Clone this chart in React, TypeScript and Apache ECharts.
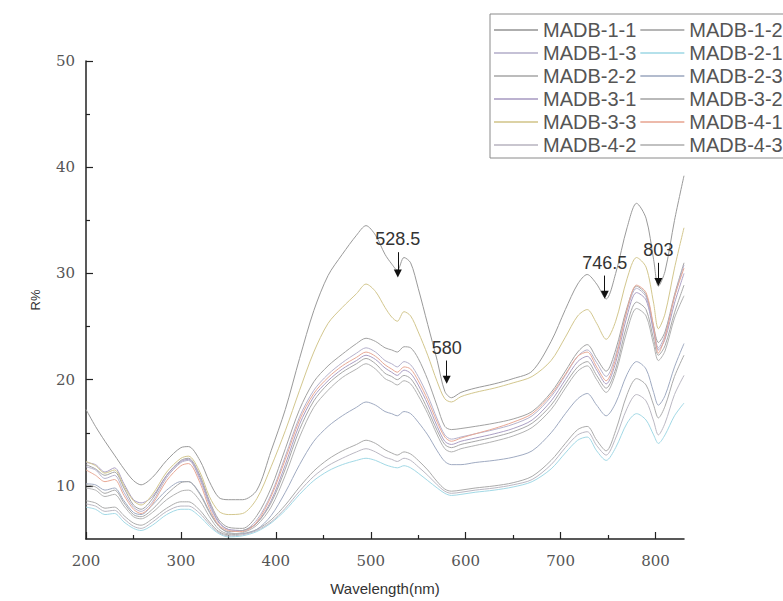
import React, { useEffect, useRef } from "react";
import * as echarts from "echarts";

// Sampled wavelengths (nm)
const wavelengths = [
  200, 210, 220, 230, 240, 250, 258, 270, 285, 300,
  308, 320, 330, 340, 350, 365, 380, 395, 410, 425,
  440, 455, 470, 485, 495, 505, 515, 522, 528, 535,
  542, 550, 560, 570, 578, 585, 595, 610, 630, 650,
  670, 690, 705, 718, 728, 738, 748, 758, 770, 780,
  790, 798, 803, 810, 820, 830,
];

// Reflectance (R%) per sample
const madb11 = [
  17.2, 15.6, 14.2, 12.9, 11.6, 10.5, 10.1, 10.8, 12.4, 13.6,
  13.7, 12.4, 10.4, 8.9, 8.7, 8.7, 9.6, 13.3, 17.2, 22.0,
  26.5, 29.8, 31.8, 33.6, 34.5, 33.6, 31.8, 30.9, 30.3, 31.5,
  31.0, 28.6, 25.2, 21.8, 18.9, 18.3, 18.8, 19.2, 19.6, 20.1,
  20.8, 23.6, 26.6, 29.0, 29.9, 29.0, 27.6, 30.0, 34.3, 36.6,
  35.2, 31.3, 28.8, 30.2, 35.0, 39.2,
];
const madb12 = [
  12.0, 11.6, 11.0, 11.3, 9.8, 8.2, 7.8, 8.8, 11.0, 12.4,
  12.6, 11.0, 8.6, 6.8, 6.1, 6.0, 7.2, 9.8, 13.5, 17.2,
  19.8, 21.3, 22.4, 23.4, 23.9, 23.6, 23.0, 22.8, 22.6, 23.1,
  23.0, 22.0, 20.0, 17.5, 15.6, 15.3, 15.4, 15.6, 15.9, 16.3,
  17.0, 18.8, 20.8, 22.6, 23.3, 22.0, 20.8, 22.8, 26.8, 28.8,
  28.0, 25.0, 23.5, 24.5, 28.0, 31.0,
];
const madb13 = [
  11.8, 11.5, 10.7, 11.0, 9.4, 8.0, 7.6, 8.5, 10.8, 12.2,
  12.4, 10.6, 8.2, 6.5, 5.9, 5.8, 6.8, 9.2, 12.8, 16.5,
  19.0, 20.5, 21.6, 22.5, 23.0, 22.6, 21.8, 21.5, 21.2, 21.7,
  21.4, 20.3, 18.5, 16.3, 14.8, 14.4, 14.6, 14.9, 15.3, 15.8,
  16.6, 18.4, 20.4, 22.2, 22.8, 21.6, 20.3, 22.3, 26.5, 28.6,
  27.8, 24.8, 23.0, 24.2, 27.8, 30.8,
];
const madb21 = [
  8.0, 7.8, 7.3, 7.4, 6.6, 6.0, 5.8, 6.3, 7.3, 7.8,
  7.8, 7.1, 6.2, 5.5, 5.2, 5.3, 5.7, 6.5, 7.7, 9.2,
  10.5, 11.4, 12.0, 12.4, 12.6, 12.4, 12.0, 11.8, 11.7, 11.9,
  11.7, 11.2, 10.5, 9.8, 9.3, 9.1, 9.2, 9.4, 9.6, 9.9,
  10.4, 11.6, 13.1, 14.3, 14.6, 13.3, 12.4, 13.6, 15.9, 16.8,
  16.2, 14.8, 14.0, 14.8, 16.6, 17.8,
];
const madb22 = [
  8.6, 8.4, 7.9, 8.0, 7.2, 6.5, 6.3, 6.9, 7.9, 8.5,
  8.5, 7.7, 6.6, 5.7, 5.4, 5.5, 5.9, 6.8, 8.2, 9.9,
  11.4, 12.5, 13.3, 13.9, 14.3, 14.0, 13.4, 13.1, 12.9, 13.2,
  13.0, 12.4, 11.5, 10.4, 9.7, 9.5, 9.6, 9.8, 10.0, 10.3,
  10.9, 12.4, 14.0, 15.3, 15.6, 14.3, 13.3, 15.2, 18.6, 20.1,
  19.5, 17.6, 16.4, 17.5, 20.3, 22.3,
];
const madb23 = [
  10.2, 10.1, 9.6, 9.8, 8.6, 7.5, 7.3, 8.2, 9.6, 10.4,
  10.4, 9.3, 7.6, 6.2, 5.6, 5.5, 5.9, 7.2, 9.4, 12.0,
  14.2, 15.6, 16.6, 17.4, 17.9, 17.6, 17.0, 16.8, 16.6, 17.0,
  16.8, 16.0, 14.8, 13.3, 12.3, 12.0, 12.0, 12.2, 12.4, 12.7,
  13.3, 15.0, 16.8, 18.2, 18.7, 17.6, 16.6, 17.8, 20.5, 21.7,
  21.0, 18.8, 17.6, 18.5, 21.2, 23.4,
];
const madb31 = [
  12.2, 12.0, 11.3, 11.7, 10.2, 8.7, 8.4, 9.0, 11.0, 12.3,
  12.5, 10.8, 8.4, 6.6, 5.9, 5.8, 6.5, 8.6, 12.0, 15.8,
  18.4, 19.9, 21.0, 21.8, 22.3, 21.9, 21.1, 20.7, 20.4, 20.9,
  20.6, 19.5, 17.7, 15.6, 14.2, 13.9, 14.2, 14.5, 14.9, 15.4,
  16.2, 18.0, 20.0, 21.7, 22.2, 20.9, 19.6, 21.6, 26.0, 28.2,
  27.5, 24.5, 22.8, 23.8, 27.2, 30.0,
];
const madb32 = [
  10.1, 9.9, 9.3, 9.6, 8.4, 7.3, 7.1, 7.8, 9.2, 10.3,
  10.4, 9.2, 7.5, 6.2, 5.7, 5.8, 6.5, 8.4, 11.6, 15.3,
  18.0, 19.6, 20.7, 21.5, 22.0, 21.5, 20.6, 20.3, 20.0, 20.4,
  20.1, 19.0, 17.2, 15.2, 13.9, 13.6, 13.9, 14.2, 14.6, 15.1,
  15.9, 17.6, 19.6, 21.2, 21.7, 20.4, 19.2, 21.0, 25.2, 27.3,
  26.6, 23.8, 22.3, 23.2, 26.3, 28.9,
];
const madb33 = [
  12.3, 11.9, 11.2, 11.5, 10.0, 8.6, 8.2, 9.2, 11.3, 12.6,
  12.8, 11.3, 9.0, 7.6, 7.3, 7.4, 8.8, 11.8, 15.2, 19.0,
  22.6, 25.3, 26.8, 28.1, 29.0, 28.3, 26.8, 25.9, 25.5, 26.4,
  26.0, 24.5, 22.3, 19.8, 18.2, 17.9, 18.4, 18.8, 19.2, 19.7,
  20.3, 21.8, 24.0, 26.0, 26.6, 25.3, 23.8, 25.5, 29.5, 31.5,
  30.6, 27.2, 24.8, 26.2, 30.5, 34.3,
];
const madb41 = [
  11.5, 11.0, 10.4, 10.6, 9.1, 7.8, 7.4, 8.3, 10.5, 11.9,
  12.1, 10.3, 7.9, 6.3, 5.8, 5.7, 6.6, 9.0, 12.5, 16.2,
  18.7, 20.2, 21.3, 22.1, 22.6, 22.2, 21.4, 21.0, 20.7, 21.2,
  21.0, 19.9, 18.1, 16.0, 14.6, 14.2, 14.5, 14.9, 15.4, 16.0,
  16.8, 18.6, 20.5, 22.2, 22.6, 21.2, 19.9, 22.0, 26.6, 28.9,
  28.2, 25.0, 22.5, 24.0, 27.8, 30.5,
];
const madb42 = [
  8.3, 8.1, 7.6, 7.7, 6.9, 6.2, 6.0, 6.6, 7.6, 8.1,
  8.1, 7.4, 6.4, 5.6, 5.3, 5.4, 5.8, 6.6, 7.9, 9.5,
  10.9, 11.9, 12.6, 13.2, 13.5, 13.2, 12.7, 12.5, 12.3, 12.6,
  12.4, 11.8, 11.0, 10.1, 9.5, 9.3, 9.4, 9.6, 9.8, 10.1,
  10.6, 12.0, 13.6, 14.8, 15.1, 13.8, 12.9, 14.5, 17.3, 18.6,
  18.0, 16.1, 14.8, 15.9, 18.6, 20.4,
];
const madb43 = [
  9.8, 9.6, 9.0, 9.2, 8.1, 7.1, 6.9, 7.5, 8.7, 9.5,
  9.6, 8.6, 7.1, 5.9, 5.5, 5.6, 6.3, 8.0, 11.0, 14.6,
  17.4, 19.0, 20.2, 21.0, 21.5, 21.0, 20.1, 19.8, 19.5, 19.9,
  19.6, 18.5, 16.8, 14.8, 13.5, 13.2, 13.5, 13.8, 14.2, 14.7,
  15.5, 17.2, 19.2, 20.8, 21.3, 20.0, 18.8, 20.6, 24.6, 26.7,
  26.0, 23.3, 21.8, 22.7, 25.8, 27.9,
];

const sampleNames = [
  "MADB-1-1", "MADB-1-2", "MADB-1-3", "MADB-2-1", "MADB-2-2", "MADB-2-3",
  "MADB-3-1", "MADB-3-2", "MADB-3-3", "MADB-4-1", "MADB-4-2", "MADB-4-3",
];
const sampleValues = [
  madb11, madb12, madb13, madb21, madb22, madb23,
  madb31, madb32, madb33, madb41, madb42, madb43,
];
const sampleColors = [
  "#9a9a9a", "#a2a2a2", "#b6b2cc", "#a2d9e6", "#ababab", "#a0abc2",
  "#ab9fc4", "#a8a8a8", "#d3c78e", "#e9a996", "#bbb8c3", "#b2b2b2",
];

// Characteristic absorption features: wavelength, arrow tip, arrow top (R%)
const featureLabels = ["528.5", "580", "746.5", "803"];
const featureX = [528.5, 580, 746.5, 803];
const featureTip = [30.0, 20.0, 28.0, 29.2];
const featureTop = [32.0, 21.8, 29.8, 31.0];

const xMajorTicks = [200, 300, 400, 500, 600, 700, 800];
const xMinorTicks = [250, 350, 450, 550, 650, 750];
const yMajorTicks = [10, 20, 30, 40, 50];
const yMinorTicks = [15, 25, 35, 45];

const AXIS_COLOR = "#222";
const SERIF = "DejaVu Serif";
const SANS = "Liberation Sans";

export default function App() {
  const ref = useRef<HTMLDivElement>(null);

  useEffect(() => {
    if (!ref.current) return;
    const chart = echarts.init(ref.current, null, { renderer: "svg" });

    const series: any[] = sampleNames.map((name, k) => ({
      name,
      type: "line",
      symbol: "none",
      smooth: 0.3,
      xAxisIndex: 0,
      yAxisIndex: 0,
      lineStyle: { width: 1, color: sampleColors[k] },
      itemStyle: { color: sampleColors[k] },
      data: wavelengths.map((w, i) => [w, sampleValues[k][i]]),
      z: 2,
    }));

    series[0].markLine = {
      silent: true,
      symbol: ["none", "triangle"],
      symbolSize: 8,
      lineStyle: { color: "#111", width: 1, type: "solid" },
      itemStyle: { color: "#111" },
      label: {
        show: true,
        position: "start",
        distance: 4,
        fontFamily: SANS,
        fontSize: 18,
        color: "#333",
        formatter: (p: any) => p.name,
      },
      data: featureLabels.map((label, i) => [
        { name: label, coord: [featureX[i], featureTop[i]] },
        { coord: [featureX[i], featureTip[i]] },
      ]),
      z: 5,
    };

    const baseX = {
      type: "value",
      min: 200,
      max: 830,
      position: "bottom",
      splitLine: { show: false },
    };
    const baseY = {
      type: "value",
      min: 5,
      max: 50,
      position: "left",
      splitLine: { show: false },
    };

    chart.setOption({
      animation: false,
      backgroundColor: "#ffffff",
      grid: { left: 86, right: 99, top: 61, bottom: 59 },
      legend: {
        left: 490,
        top: 14,
        width: 310,
        orient: "horizontal",
        data: sampleNames,
        itemWidth: 44,
        itemHeight: 10,
        itemGap: 3,
        padding: [6, 3, 3, 3],
        borderColor: "#8a8a8a",
        borderWidth: 1,
        itemStyle: { opacity: 0 },
        lineStyle: { opacity: 0.8 },
        textStyle: {
          fontFamily: SANS,
          fontSize: 20,
          width: 99,
          overflow: "none",
          color: "#555",
        },
      },
      xAxis: [
        {
          ...baseX,
          name: "Wavelength(nm)",
          nameLocation: "middle",
          nameGap: 42,
          nameTextStyle: { fontFamily: SANS, fontSize: 15, color: "#333" },
          axisLine: { show: true, lineStyle: { color: AXIS_COLOR, width: 1.5 } },
          axisTick: {
            show: true,
            inside: true,
            length: 7,
            customValues: xMajorTicks,
            lineStyle: { color: AXIS_COLOR, width: 1.2 },
          },
          axisLabel: {
            customValues: xMajorTicks,
            margin: 14,
            fontFamily: SERIF,
            fontSize: 15,
            color: "#555",
          },
        },
        {
          ...baseX,
          axisLine: { show: false },
          axisTick: {
            show: true,
            inside: true,
            length: 4,
            customValues: xMinorTicks,
            lineStyle: { color: AXIS_COLOR, width: 1.2 },
          },
          axisLabel: { show: false },
        },
      ],
      yAxis: [
        {
          ...baseY,
          name: "R%",
          nameLocation: "middle",
          nameGap: 44,
          nameRotate: 90,
          nameTextStyle: { fontFamily: SANS, fontSize: 13, color: "#333" },
          axisLine: { show: true, lineStyle: { color: AXIS_COLOR, width: 1.5 } },
          axisTick: {
            show: true,
            inside: true,
            length: 7,
            customValues: yMajorTicks,
            lineStyle: { color: AXIS_COLOR, width: 1.2 },
          },
          axisLabel: {
            customValues: yMajorTicks,
            margin: 11,
            fontFamily: SERIF,
            fontSize: 15,
            color: "#555",
          },
        },
        {
          ...baseY,
          axisLine: { show: false },
          axisTick: {
            show: true,
            inside: true,
            length: 4,
            customValues: yMinorTicks,
            lineStyle: { color: AXIS_COLOR, width: 1.2 },
          },
          axisLabel: { show: false },
        },
      ],
      series,
    });

    return () => chart.dispose();
  }, []);

  return (
    <div
      ref={ref}
      style={{ position: "absolute", left: 0, top: 0, width: 783, height: 601, background: "#fff" }}
    />
  );
}
